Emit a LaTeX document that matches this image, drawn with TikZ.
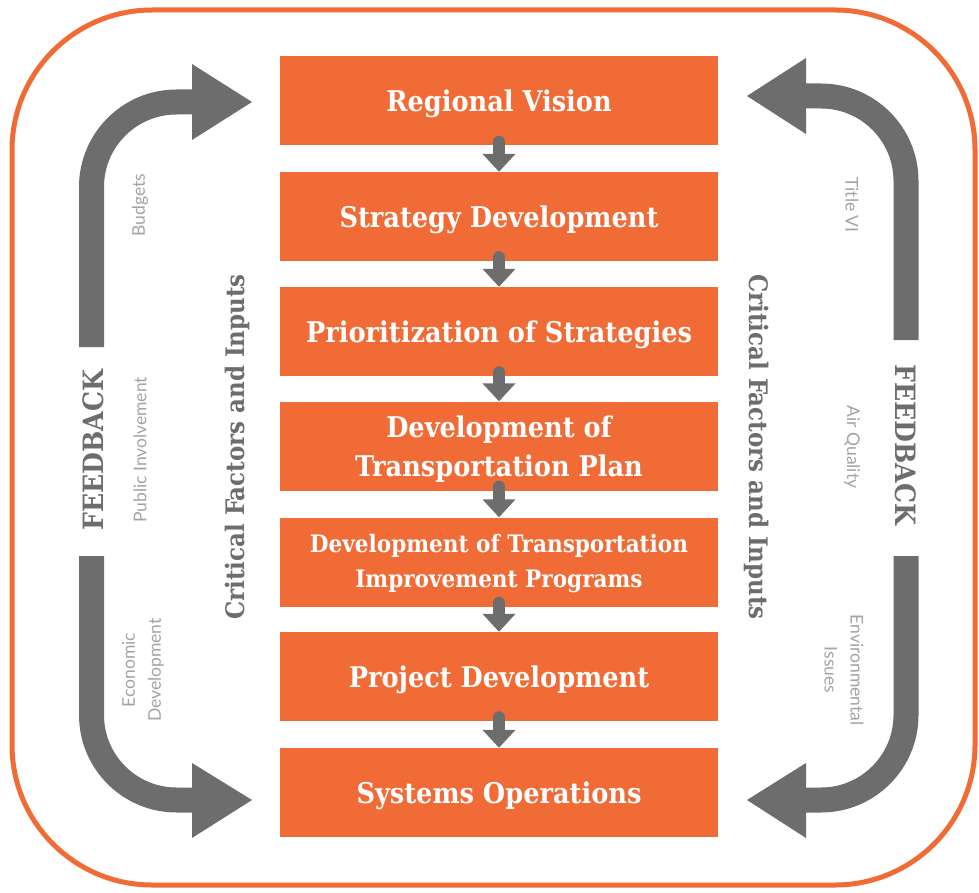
\documentclass[tikz,border=0pt]{standalone}
\usepackage{fontspec}
\setmainfont{DejaVu Serif}
\newfontfamily\slab{DejaVu Serif Condensed}
\newfontfamily\lab{Lato}
\usetikzlibrary{arrows.meta}
\definecolor{orng}{HTML}{F16B36}
\definecolor{dgrey}{HTML}{6D6D6D}
\definecolor{lgrey}{HTML}{A3A3A3}
\begin{document}
\begin{tikzpicture}[x=1pt,y=-1pt,
  stage/.style={fill=orng, minimum width=438pt, minimum height=89pt, inner sep=0pt},
  stagetext/.style={inner sep=0pt, text=white, font=\slab\bfseries\fontsize{28.5}{39}\selectfont, align=center},
  stagetextsm/.style={stagetext, font=\slab\bfseries\fontsize{24}{35}\selectfont},
  flow/.style={draw=dgrey, line width=12pt, line cap=round, -{Triangle[width=32pt,length=18pt]}},
  big/.style={draw=dgrey, line width=25pt, rounded corners=85pt},
  bighead/.style={fill=dgrey},
  fb/.style={text=dgrey, font=\slab\bfseries\fontsize{28}{34}\selectfont, inner sep=0pt},
  cfi/.style={text=dgrey, font=\slab\bfseries\fontsize{25.5}{30}\selectfont, inner sep=0pt},
  small/.style={text=lgrey, font=\lab\fontsize{17.5}{26}\selectfont, inner sep=0pt, align=center}]
\useasboundingbox (0,0) rectangle (979,893);
\fill[white] (0,0) rectangle (979,893);
\draw[orng, line width=5pt, rounded corners=140pt] (12,10) rectangle (975,885);

\node[stage] (b1) at (499,101) {};
\node[stage] (b2) at (499,216.5) {};
\node[stage] (b3) at (499,331.5) {};
\node[stage] (b4) at (499,446) {};
\node[stage] (b5) at (499,562) {};
\node[stage] (b6) at (499,676.5) {};
\node[stage] (b7) at (499,792.5) {};

\node[stagetext] (t1) at ([yshift=-3pt]b1.center) {Regional Vision};
\node[stagetext] (t2) at ([yshift=-3pt]b2.center) {Strategy Development};
\node[stagetext] (t3) at ([yshift=-3pt]b3.center) {Prioritization of Strategies};
\node[stagetext] (t4) at ([yshift=-3pt]b4.center) {Development of\\Transportation Plan};
\node[stagetextsm] (t5) at ([yshift=-2pt]b5.center) {Development of Transportation\\Improvement Programs};
\node[stagetext] (t6) at ([yshift=-3pt]b6.center) {Project Development};
\node[stagetext] (t7) at ([yshift=-3pt]b7.center) {Systems Operations};

\foreach \a/\b in {b1/b2,b2/b3,b3/b4,b4/b5,b5/b6,b6/b7}
  \draw[flow] ([yshift=4pt]\a.south) -- (\b.north);

% big feedback arrows
\coordinate (lt0) at (91.5,347); \coordinate (lt1) at (91.5,102); \coordinate (lt2) at (193,102);
\draw[big] (lt0) -- (lt1) -- (lt2);
\fill[bighead] (192,64) -- (252,102) -- (192,140) -- cycle;
\coordinate (lb0) at (91.5,556); \coordinate (lb1) at (91.5,800); \coordinate (lb2) at (193,800);
\draw[big] (lb0) -- (lb1) -- (lb2);
\fill[bighead] (192,763) -- (252,800) -- (192,838) -- cycle;
\coordinate (rt0) at (906,340); \coordinate (rt1) at (906,96); \coordinate (rt2) at (805,96);
\draw[big] (rt0) -- (rt1) -- (rt2);
\fill[bighead] (806,58) -- (747,96) -- (806,134) -- cycle;
\coordinate (rb0) at (906,556); \coordinate (rb1) at (906,800); \coordinate (rb2) at (805,800);
\draw[big] (rb0) -- (rb1) -- (rb2);
\fill[bighead] (806,763) -- (747,800) -- (806,838) -- cycle;

\node[fb, rotate=90] (fbl) at (93,450) {FEEDBACK};
\node[fb, rotate=-90] (fbr) at (906,445) {FEEDBACK};
\node[cfi, rotate=90] (cfl) at (237,447) {Critical Factors and Inputs};
\node[cfi, rotate=-90] (cfr) at (757,447) {Critical Factors and Inputs};

\node[small, rotate=90] (l1) at (140,205) {Budgets};
\node[small, rotate=90] (l2) at (140,450) {Public Involvement};
\node[small, rotate=90] (l3) at (143,670) {Economic\\Development};
\node[small, rotate=-90] (r1) at (852,205) {Title VI};
\node[small, rotate=-90] (r2) at (852,447) {Air Quality};
\node[small, rotate=-90] (r3) at (844,670) {Environmental\\Issues};
\end{tikzpicture}
\end{document}
